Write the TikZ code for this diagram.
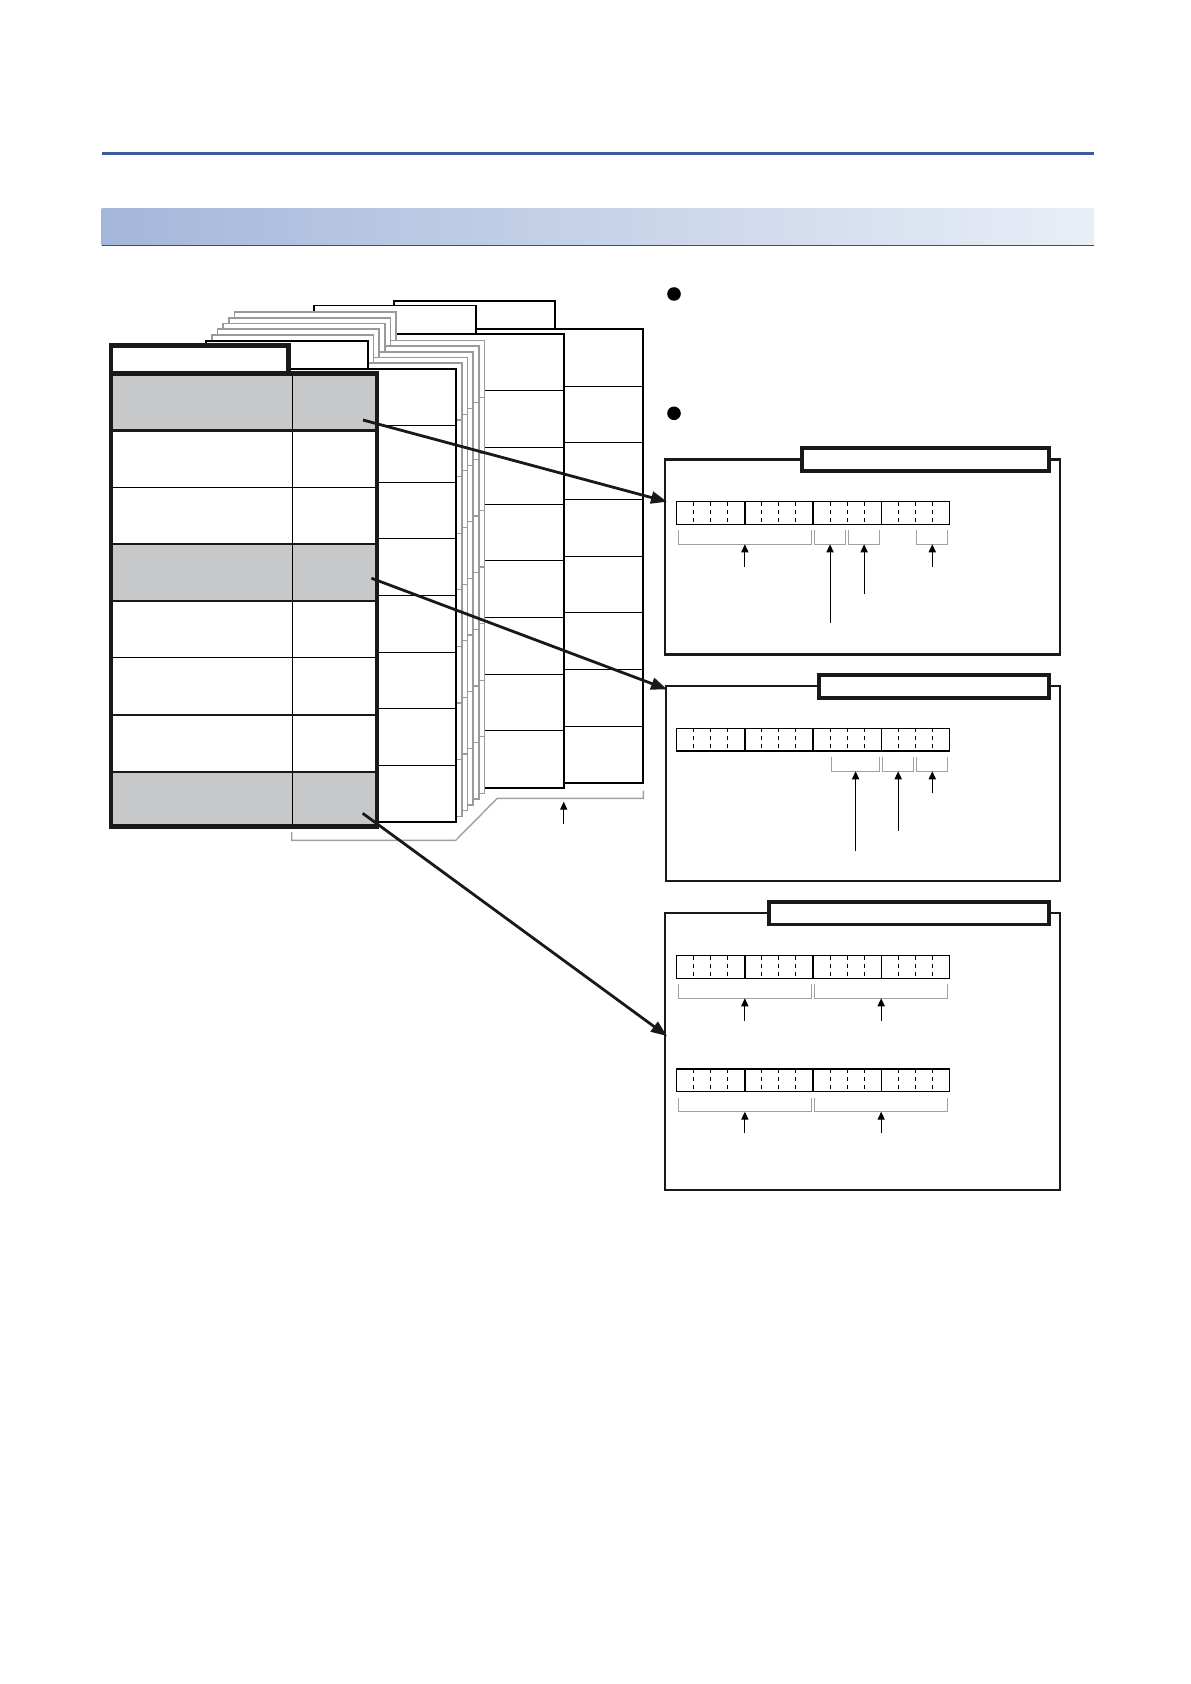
\documentclass[tikz,border=0pt]{standalone}
\usetikzlibrary{arrows.meta}
\definecolor{rulecol}{HTML}{3A5C9C}
\definecolor{bandL}{HTML}{A4B7DA}
\definecolor{bandR}{HTML}{E9EEF7}
\definecolor{bandline}{HTML}{1F5A8A}
\definecolor{tablegray}{HTML}{C7C8CA}
\definecolor{sheetgray}{HTML}{9A9A9A}
\definecolor{brkgray}{HTML}{A0A0A0}

% sheet: style, tabL, tabT, tabR, bodyT, bodyR, bodyB
\newcommand{\mysheet}[7]{%
  \path[#1] ({#2},{#3}) rectangle ({#4},{#5});
  \path[#1] ({#2},{#5}) rectangle ({#6},{#7});
  \foreach \k in {1,...,7}{%
    \path[#1row] ({#2},{(#5)+\k*((#7)-(#5))/8}) -- ({#6},{(#5)+\k*((#7)-(#5))/8});
  }%
}
% register: y0, y1 (16 cells, x from 676.7 to 949.3)
\newcommand{\myreg}[2]{%
  \foreach \k in {1,...,15}{%
    \pgfmathtruncatemacro\mm{mod(\k,4)}%
    \ifnum\mm=0
      \draw[reg] ({676.7+\k*17.0375},{#1}) -- ({676.7+\k*17.0375},{#2});
    \else
      \draw[regdash] ({676.7+\k*17.0375},{#1}) -- ({676.7+\k*17.0375},{#2});
    \fi
  }%
  \draw[reg] (676.7,{#1}) rectangle (949.3,{#2});
}
% bracket: first cell, last cell, ytop, ybot
\newcommand{\mybrk}[4]{%
  \draw[brk] ({676.7+#1*17.0375+1.5},{#3}) -- ({676.7+#1*17.0375+1.5},{#4})
    -- ({676.7+(#2+1)*17.0375-1.5},{#4}) -- ({676.7+(#2+1)*17.0375-1.5},{#3});
}
% x-centre of cells a..b
\newcommand{\cx}[2]{676.7+(#1+#2+1)*17.0375/2}

\begin{document}
\begin{tikzpicture}[x=0.5pt,y=-0.5pt,line join=miter,
  blk/.style={draw=black,line width=0.9pt,fill=white},
  gry/.style={draw=sheetgray,line width=0.8pt,fill=white},
  blkrow/.style={draw=black,line width=0.5pt},
  gryrow/.style={draw=sheetgray,line width=0.6pt},
  bigarrow/.style={draw=black!90,line width=1.4pt,-{Triangle[length=8pt,width=6pt]}},
  smallarrow/.style={draw=black,line width=0.55pt,-{Triangle[length=4pt,width=3.6pt]}},
  brk/.style={draw=brkgray,line width=0.6pt},
  frame/.style={draw=black!90,line width=1.2pt,fill=white},
  tabbox/.style={draw=black!90,line width=1.8pt,fill=white},
  reg/.style={draw=black,line width=0.65pt},
  regdash/.style={draw=black,line width=0.5pt,dash pattern=on 2pt off 2pt},
  thickrow/.style={draw=black!90,line width=1.2pt},
  outer/.style={draw=black!90,line width=2.3pt},
]
\useasboundingbox (0,0) rectangle (1190,1684);
\fill[white] (0,0) rectangle (1190,1684);

% header rule and band
\fill[rulecol] (101.7,151.7) rectangle (1094,154.7);
\shade[left color=bandL,right color=bandR] (101.7,209) rectangle (1094,245.3);
\draw[bandline,line width=0.6pt] (101.7,245.3) -- (1094,245.3);

% stacked sheets, back to front
\mysheet{blk}{393.6}{300.7}{555}{329.3}{643.3}{783}
\mysheet{blk}{313.7}{305.5}{476}{334}{563.7}{787.7}
\foreach \i in {5,4,3,2,1}{%
  \mysheet{gry}{206+5.7*\i}{340.7-5.7*\i}{367.7+5.7*\i}{369-5.7*\i}{456+5.7*\i}{822-5.7*\i}
}
\mysheet{blk}{206}{340.7}{367.7}{369}{456}{822}

% main table
\fill[white] (111,345) rectangle (289,373.6);
\fill[white] (111,373.6) rectangle (377,826.4);
\fill[tablegray] (111,373.6) rectangle (377,430.7);
\fill[tablegray] (111,544) rectangle (377,600.7);
\fill[tablegray] (111,772) rectangle (377,826.4);
\draw[blkrow] (111,487) -- (377,487);
\draw[blkrow] (111,657.5) -- (377,657.5);
\draw[blkrow] (292,373.6) -- (292,826.4);
\foreach \yy in {430.7,544,600.7,715,772}{\draw[thickrow] (111,\yy) -- (377,\yy);}
\draw[outer] (111,345.8) rectangle (288.7,373.7);
\draw[outer] (111,373.7) rectangle (377,826.4);

% bottom bracket and arrow
\coordinate (bk0) at (291.7,832);
\coordinate (bk1) at (291.7,840.3);
\coordinate (bk2) at (455.7,840.3);
\coordinate (bk3) at (497.3,798.3);
\coordinate (bk4) at (643.3,798.3);
\coordinate (bk5) at (643.3,790.7);
\draw[brk,line width=0.7pt] (bk0) -- (bk1) -- (bk2) -- (bk3) -- (bk4) -- (bk5);
\coordinate (ua0) at (563.7,824.3);
\coordinate (ua1) at (563.7,801.7);
\draw[smallarrow] (ua0) -- (ua1);

% bullets
\fill[black] (674,294) circle (6.8);
\fill[black] (674,413.3) circle (6.8);

% box 1
\draw[frame] (665,459.3) rectangle (1060,654.3);
\draw[tabbox] (801.7,447.7) rectangle (1049,471);
\myreg{501.7}{524.3}
\mybrk{0}{7}{530}{544.3}
\mybrk{8}{9}{530}{544.3}
\mybrk{10}{11}{530}{544.3}
\mybrk{14}{15}{530}{544.3}
\draw[smallarrow] ({\cx{0}{7}},566.7) -- ({\cx{0}{7}},544.3);
\draw[smallarrow] ({\cx{8}{9}},623.3) -- ({\cx{8}{9}},544.3);
\draw[smallarrow] ({\cx{10}{11}},594.3) -- ({\cx{10}{11}},544.3);
\draw[smallarrow] ({\cx{14}{15}},566.7) -- ({\cx{14}{15}},544.3);

% box 2
\draw[frame] (665.7,686) rectangle (1060,880.7);
\draw[tabbox] (819,675) rectangle (1049,697.7);
\myreg{728.3}{751}
\mybrk{9}{11}{757.3}{771.3}
\mybrk{12}{13}{757.3}{771.3}
\mybrk{14}{15}{757.3}{771.3}
\draw[smallarrow] ({\cx{9}{11}},850.7) -- ({\cx{9}{11}},771.3);
\draw[smallarrow] ({\cx{12}{13}},830.7) -- ({\cx{12}{13}},771.3);
\draw[smallarrow] ({\cx{14}{15}},793.3) -- ({\cx{14}{15}},771.3);

% box 3
\draw[frame] (665,912.7) rectangle (1060,1190);
\draw[tabbox] (769,901.7) rectangle (1049,924.3);
\myreg{955.7}{978.3}
\mybrk{0}{7}{984.3}{998.3}
\mybrk{8}{15}{984.3}{998.3}
\draw[smallarrow] ({\cx{0}{7}},1020.7) -- ({\cx{0}{7}},998.3);
\draw[smallarrow] ({\cx{8}{15}},1020.7) -- ({\cx{8}{15}},998.3);
\myreg{1069}{1091.7}
\mybrk{0}{7}{1097.7}{1111.7}
\mybrk{8}{15}{1097.7}{1111.7}
\draw[smallarrow] ({\cx{0}{7}},1133.3) -- ({\cx{0}{7}},1111.7);
\draw[smallarrow] ({\cx{8}{15}},1133.3) -- ({\cx{8}{15}},1111.7);

% big arrows
\coordinate (s1) at (363,420);
\coordinate (e1) at (667,501.7);
\coordinate (s2) at (371.4,578.2);
\coordinate (e2) at (667,689.3);
\coordinate (s3) at (362.7,813.3);
\coordinate (e3) at (667,1036);
\draw[bigarrow] (s1) -- (e1);
\draw[bigarrow] (s2) -- (e2);
\draw[bigarrow] (s3) -- (e3);
\end{tikzpicture}
\end{document}
